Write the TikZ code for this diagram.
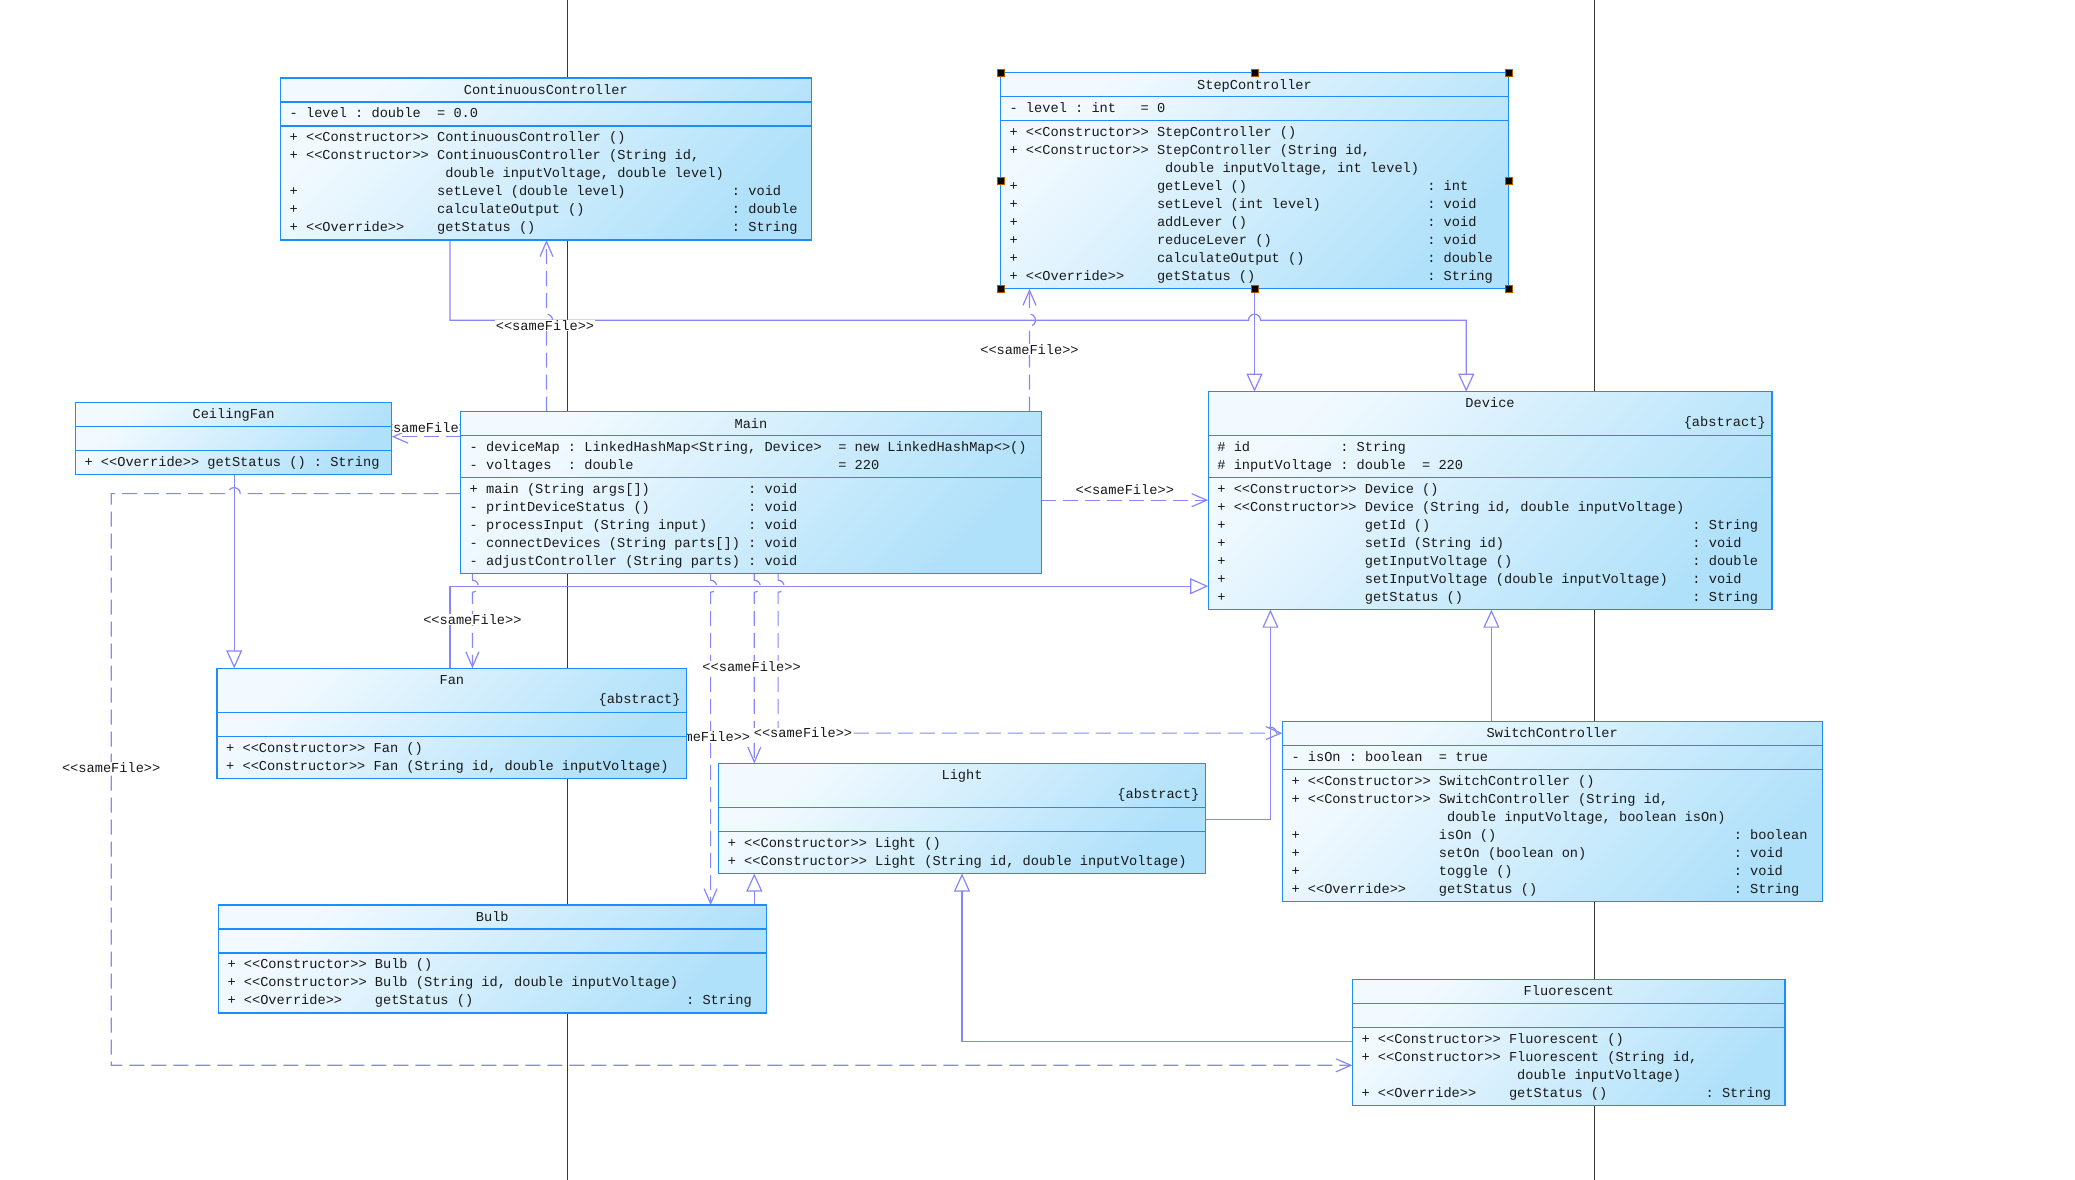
\documentclass[tikz,border=0pt]{standalone}
\usepackage{fontspec}
\setmonofont{Liberation Mono}
\usetikzlibrary{arrows.meta}
\definecolor{boxblue}{RGB}{30,140,250}
\definecolor{boxtop}{RGB}{243,250,255}
\definecolor{boxbottom}{RGB}{176,225,250}
\definecolor{linkblue}{RGB}{135,135,250}
\definecolor{inkgray}{RGB}{25,25,25}
\definecolor{pagegray}{RGB}{55,55,55}
\newcommand{\umlfont}{\ttfamily\fontsize{13.65}{18}\selectfont\frenchspacing}
\newlength{\umlch}
\setlength{\umlch}{8.19pt}
\newcommand{\cgap}[1]{\hspace*{#1\umlch}}
\newcommand{\umlrows}[1]{\begin{tabular}{@{}l@{}}#1\end{tabular}}
\pgfdeclarelayer{back}
\pgfdeclarelayer{links}
\pgfsetlayers{back,links,main}

\begin{document}
\begin{tikzpicture}[x=1pt, y=-1pt,
        cls/.style={
            rectangle,
            draw=boxblue,
            line width=1.3pt,
            top color=boxtop,
            bottom color=boxbottom,
            shading angle=45,
            anchor=north west,
            inner sep=0pt,
            outer sep=0pt
        },
        csep/.style={draw=boxblue, line width=1.3pt},
        ctitle/.style={anchor=base, inner sep=0pt, font=\umlfont, text=inkgray},
        cabstract/.style={anchor=base east, inner sep=0pt, font=\umlfont, text=inkgray},
        crows/.style={anchor=north west, inner sep=0pt, font=\umlfont, text=inkgray},
        gen/.style={draw=linkblue, line width=1.2pt, -{Triangle[open, length=18pt, width=16pt]}},
        dep/.style={draw=linkblue, line width=1.2pt, dash pattern=on 15pt off 7pt,
            -{Straight Barb[length=15pt, width=13pt]}},
        samefile/.style={fill=white, inner sep=0.5pt, font=\umlfont, text=inkgray},
        handle/.style={fill=black, draw=orange!70!black, line width=0.6pt},
        pageline/.style={draw=pagegray, line width=1.3pt}
    ]
    \useasboundingbox (0,0) rectangle (2075,1180);
    \begin{pgfonlayer}{back}
        \fill[white] (0,0) rectangle (2075,1180);
        \draw[pageline] (567.7,0) -- (567.7,1180);
        \draw[pageline] (1594.6,0) -- (1594.6,1180);
    \end{pgfonlayer}

    % ContinuousController
    \node[cls, minimum width=530.7pt, minimum height=162pt] (cc) at (280.5,78.1) {};
    \draw[csep] ([yshift=-24pt]cc.north west) -- ([yshift=-24pt]cc.north east);
    \draw[csep] ([yshift=-48pt]cc.north west) -- ([yshift=-48pt]cc.north east);
    \node[ctitle] (cc-name) at ([yshift=-16.5pt]cc.north) {ContinuousController};
    \node[crows] (cc-attr) at ([xshift=9pt, yshift=-27pt]cc.north west)
        {\umlrows{- level : double\cgap{2}= 0.0}};
    \node[crows] (cc-ops) at ([xshift=9pt, yshift=-51pt]cc.north west) {\umlrows{%
        + <<Constructor>> ContinuousController ()\\
        + <<Constructor>> ContinuousController (String id,\\
        \cgap{19}double inputVoltage, double level)\\
        +\cgap{17}setLevel (double level)\cgap{13}: void\\
        +\cgap{17}calculateOutput ()\cgap{18}: double\\
        + <<Override>>\cgap{4}getStatus ()\cgap{24}: String}};

    % StepController
    \node[cls, minimum width=508.2pt, minimum height=216pt] (sc) at (1000.4,72.8) {};
    \draw[csep] ([yshift=-24pt]sc.north west) -- ([yshift=-24pt]sc.north east);
    \draw[csep] ([yshift=-48pt]sc.north west) -- ([yshift=-48pt]sc.north east);
    \node[ctitle] (sc-name) at ([yshift=-16.5pt]sc.north) {StepController};
    \node[crows] (sc-attr) at ([xshift=9pt, yshift=-27pt]sc.north west)
        {\umlrows{- level : int\cgap{3}= 0}};
    \node[crows] (sc-ops) at ([xshift=9pt, yshift=-51pt]sc.north west) {\umlrows{%
        + <<Constructor>> StepController ()\\
        + <<Constructor>> StepController (String id,\\
        \cgap{19}double inputVoltage, int level)\\
        +\cgap{17}getLevel ()\cgap{22}: int\\
        +\cgap{17}setLevel (int level)\cgap{13}: void\\
        +\cgap{17}addLever ()\cgap{22}: void\\
        +\cgap{17}reduceLever ()\cgap{19}: void\\
        +\cgap{17}calculateOutput ()\cgap{15}: double\\
        + <<Override>>\cgap{4}getStatus ()\cgap{21}: String}};
    \foreach \a in {north west, north, north east, west, east, south west, south, south east}
        \filldraw[handle] ([xshift=-3.5pt, yshift=-3.5pt]sc.\a) rectangle ([xshift=3.5pt, yshift=3.5pt]sc.\a);

    % CeilingFan
    \node[cls, minimum width=316.3pt, minimum height=72pt] (cf) at (75.4,402.3) {};
    \draw[csep] ([yshift=-24pt]cf.north west) -- ([yshift=-24pt]cf.north east);
    \draw[csep] ([yshift=-48pt]cf.north west) -- ([yshift=-48pt]cf.north east);
    \node[ctitle] (cf-name) at ([yshift=-16.5pt]cf.north) {CeilingFan};
    \node[crows] (cf-ops) at ([xshift=9pt, yshift=-51pt]cf.north west)
        {\umlrows{+ <<Override>> getStatus () : String}};

    % Main
    \node[cls, minimum width=580.9pt, minimum height=162pt] (main) at (460.5,411.5) {};
    \draw[csep] ([yshift=-24pt]main.north west) -- ([yshift=-24pt]main.north east);
    \draw[csep] ([yshift=-66pt]main.north west) -- ([yshift=-66pt]main.north east);
    \node[ctitle] (main-name) at ([yshift=-16.5pt]main.north) {Main};
    \node[crows] (main-attr) at ([xshift=9pt, yshift=-27pt]main.north west) {\umlrows{%
        - deviceMap : LinkedHashMap<String, Device>\cgap{2}= new LinkedHashMap<>()\\
        - voltages\cgap{2}: double\cgap{25}= 220}};
    \node[crows] (main-ops) at ([xshift=9pt, yshift=-69pt]main.north west) {\umlrows{%
        + main (String args[])\cgap{12}: void\\
        - printDeviceStatus ()\cgap{12}: void\\
        - processInput (String input)\cgap{5}: void\\
        - connectDevices (String parts[])\cgap{1}: void\\
        - adjustController (String parts)\cgap{1}: void}};

    % Device
    \node[cls, minimum width=563.7pt, minimum height=218pt] (dev) at (1208.2,391.7) {};
    \draw[csep] ([yshift=-44pt]dev.north west) -- ([yshift=-44pt]dev.north east);
    \draw[csep] ([yshift=-86pt]dev.north west) -- ([yshift=-86pt]dev.north east);
    \node[ctitle] (dev-name) at ([yshift=-16pt]dev.north) {Device};
    \node[cabstract] (dev-abs) at ([xshift=-6pt, yshift=-35pt]dev.north east) {\{abstract\}};
    \node[crows] (dev-attr) at ([xshift=9pt, yshift=-47pt]dev.north west) {\umlrows{%
        \# id\cgap{11}: String\\
        \# inputVoltage : double\cgap{2}= 220}};
    \node[crows] (dev-ops) at ([xshift=9pt, yshift=-89pt]dev.north west) {\umlrows{%
        + <<Constructor>> Device ()\\
        + <<Constructor>> Device (String id, double inputVoltage)\\
        +\cgap{17}getId ()\cgap{32}: String\\
        +\cgap{17}setId (String id)\cgap{23}: void\\
        +\cgap{17}getInputVoltage ()\cgap{22}: double\\
        +\cgap{17}setInputVoltage (double inputVoltage)\cgap{3}: void\\
        +\cgap{17}getStatus ()\cgap{28}: String}};

    % Fan
    \node[cls, minimum width=469.8pt, minimum height=110pt] (fan) at (217,668.3) {};
    \draw[csep] ([yshift=-44pt]fan.north west) -- ([yshift=-44pt]fan.north east);
    \draw[csep] ([yshift=-68pt]fan.north west) -- ([yshift=-68pt]fan.north east);
    \node[ctitle] (fan-name) at ([yshift=-16pt]fan.north) {Fan};
    \node[cabstract] (fan-abs) at ([xshift=-6pt, yshift=-35pt]fan.north east) {\{abstract\}};
    \node[crows] (fan-ops) at ([xshift=9pt, yshift=-71pt]fan.north west) {\umlrows{%
        + <<Constructor>> Fan ()\\
        + <<Constructor>> Fan (String id, double inputVoltage)}};

    % Light
    \node[cls, minimum width=486.9pt, minimum height=110pt] (light) at (718.6,763.5) {};
    \draw[csep] ([yshift=-44pt]light.north west) -- ([yshift=-44pt]light.north east);
    \draw[csep] ([yshift=-68pt]light.north west) -- ([yshift=-68pt]light.north east);
    \node[ctitle] (light-name) at ([yshift=-16pt]light.north) {Light};
    \node[cabstract] (light-abs) at ([xshift=-6pt, yshift=-35pt]light.north east) {\{abstract\}};
    \node[crows] (light-ops) at ([xshift=9pt, yshift=-71pt]light.north west) {\umlrows{%
        + <<Constructor>> Light ()\\
        + <<Constructor>> Light (String id, double inputVoltage)}};

    % SwitchController
    \node[cls, minimum width=539.9pt, minimum height=180pt] (sw) at (1282.3,721.2) {};
    \draw[csep] ([yshift=-24pt]sw.north west) -- ([yshift=-24pt]sw.north east);
    \draw[csep] ([yshift=-48pt]sw.north west) -- ([yshift=-48pt]sw.north east);
    \node[ctitle] (sw-name) at ([yshift=-16.5pt]sw.north) {SwitchController};
    \node[crows] (sw-attr) at ([xshift=9pt, yshift=-27pt]sw.north west)
        {\umlrows{- isOn : boolean\cgap{2}= true}};
    \node[crows] (sw-ops) at ([xshift=9pt, yshift=-51pt]sw.north west) {\umlrows{%
        + <<Constructor>> SwitchController ()\\
        + <<Constructor>> SwitchController (String id,\\
        \cgap{19}double inputVoltage, boolean isOn)\\
        +\cgap{17}isOn ()\cgap{29}: boolean\\
        +\cgap{17}setOn (boolean on)\cgap{18}: void\\
        +\cgap{17}toggle ()\cgap{27}: void\\
        + <<Override>>\cgap{4}getStatus ()\cgap{24}: String}};

    % Bulb
    \node[cls, minimum width=547.9pt, minimum height=108pt] (bulb) at (218.3,905.1) {};
    \draw[csep] ([yshift=-24pt]bulb.north west) -- ([yshift=-24pt]bulb.north east);
    \draw[csep] ([yshift=-48pt]bulb.north west) -- ([yshift=-48pt]bulb.north east);
    \node[ctitle] (bulb-name) at ([yshift=-16.5pt]bulb.north) {Bulb};
    \node[crows] (bulb-ops) at ([xshift=9pt, yshift=-51pt]bulb.north west) {\umlrows{%
        + <<Constructor>> Bulb ()\\
        + <<Constructor>> Bulb (String id, double inputVoltage)\\
        + <<Override>>\cgap{4}getStatus ()\cgap{26}: String}};

    % Fluorescent
    \node[cls, minimum width=432.7pt, minimum height=126pt] (fl) at (1352.4,979.2) {};
    \draw[csep] ([yshift=-24pt]fl.north west) -- ([yshift=-24pt]fl.north east);
    \draw[csep] ([yshift=-48pt]fl.north west) -- ([yshift=-48pt]fl.north east);
    \node[ctitle] (fl-name) at ([yshift=-16.5pt]fl.north) {Fluorescent};
    \node[crows] (fl-ops) at ([xshift=9pt, yshift=-51pt]fl.north west) {\umlrows{%
        + <<Constructor>> Fluorescent ()\\
        + <<Constructor>> Fluorescent (String id,\\
        \cgap{19}double inputVoltage)\\
        + <<Override>>\cgap{4}getStatus ()\cgap{12}: String}};

    \begin{pgfonlayer}{links}
        % generalizations
        \draw[gen] (450,0 |- cc.south) -- (450,320.2) -- (1248.5,320.2)
            arc[start angle=180, end angle=360, radius=6] -- (1466.2,320.2) -- (1466.2,0 |- dev.north);
        \draw[gen] (sc.south) -- (sc.south |- dev.north);
        \draw[gen] (234.2,0 |- cf.south) -- (234.2,0 |- fan.north);
        \draw[gen] (450,0 |- fan.north) -- (450,586.2) -- (dev.west |- 0,586.2);
        \draw[gen] (light.east |- 0,819.1) -- (1270.4,819.1) -- (1270.4,0 |- dev.south);
        \draw[gen] (1491.4,0 |- sw.north) -- (1491.4,0 |- dev.south);
        \draw[gen] (754.3,0 |- bulb.north) -- (754.3,0 |- light.south);
        \draw[gen] (fl.west |- 0,1041.4) -- (962,1041.4) -- (962,0 |- light.south);

        % dependencies
        \draw[dep] (546.5,0 |- main.north) -- (546.5,326.2)
            arc[start angle=90, end angle=-90, radius=6] -- (546.5,0 |- cc.south);
        \draw[dep] (1029.5,0 |- main.north) -- (1029.5,326.2)
            arc[start angle=90, end angle=-90, radius=6] -- (1029.5,0 |- sc.south);
        \draw[dep] (main.west |- 0,436.7) -- (cf.east |- 0,436.7);
        \draw[dep] (main.east |- 0,500.2) -- (dev.west |- 0,500.2);
        \draw[dep] (main.west |- 0,493.6) -- (240.2,493.6)
            arc[start angle=0, end angle=-180, radius=6] -- (111.2,493.6) -- (111.2,1065.3) -- (fl.west |- 0,1065.3);
        \draw[dep] (472.4,0 |- main.south) -- (472.4,580.2)
            arc[start angle=-90, end angle=90, radius=6] -- (472.4,0 |- fan.north);
        \draw[dep] (710.6,0 |- main.south) -- (710.6,580.2)
            arc[start angle=-90, end angle=90, radius=6] -- (710.6,0 |- bulb.north);
        \draw[dep] (754.3,0 |- main.south) -- (754.3,580.2)
            arc[start angle=-90, end angle=90, radius=6] -- (754.3,0 |- light.north);
        \draw[dep] (778.1,0 |- main.south) -- (778.1,580.2)
            arc[start angle=-90, end angle=90, radius=6] -- (778.1,733.1) -- (1264.4,733.1)
            arc[start angle=180, end angle=360, radius=6] -- (sw.west |- 0,733.1);

        \node[samefile] (sf-cc) at (545,325.5) {<<sameFile>>};
        \node[samefile] (sf-sc) at (1029.5,349.4) {<<sameFile>>};
        \node[samefile] (sf-cf) at (426,427.4) {<<sameFile>>};
        \node[samefile] (sf-dev) at (1124.8,489.6) {<<sameFile>>};
        \node[samefile] (sf-fan) at (472.4,619.3) {<<sameFile>>};
        \node[samefile] (sf-fl) at (111.2,767.5) {<<sameFile>>};
        \node[samefile] (sf-light) at (751.6,667) {<<sameFile>>};
        \node[samefile] (sf-sw) at (803,733.1) {<<sameFile>>};
        \node[samefile] (sf-bulb) at (701,737) {<<sameFile>>};
    \end{pgfonlayer}
\end{tikzpicture}
\end{document}
